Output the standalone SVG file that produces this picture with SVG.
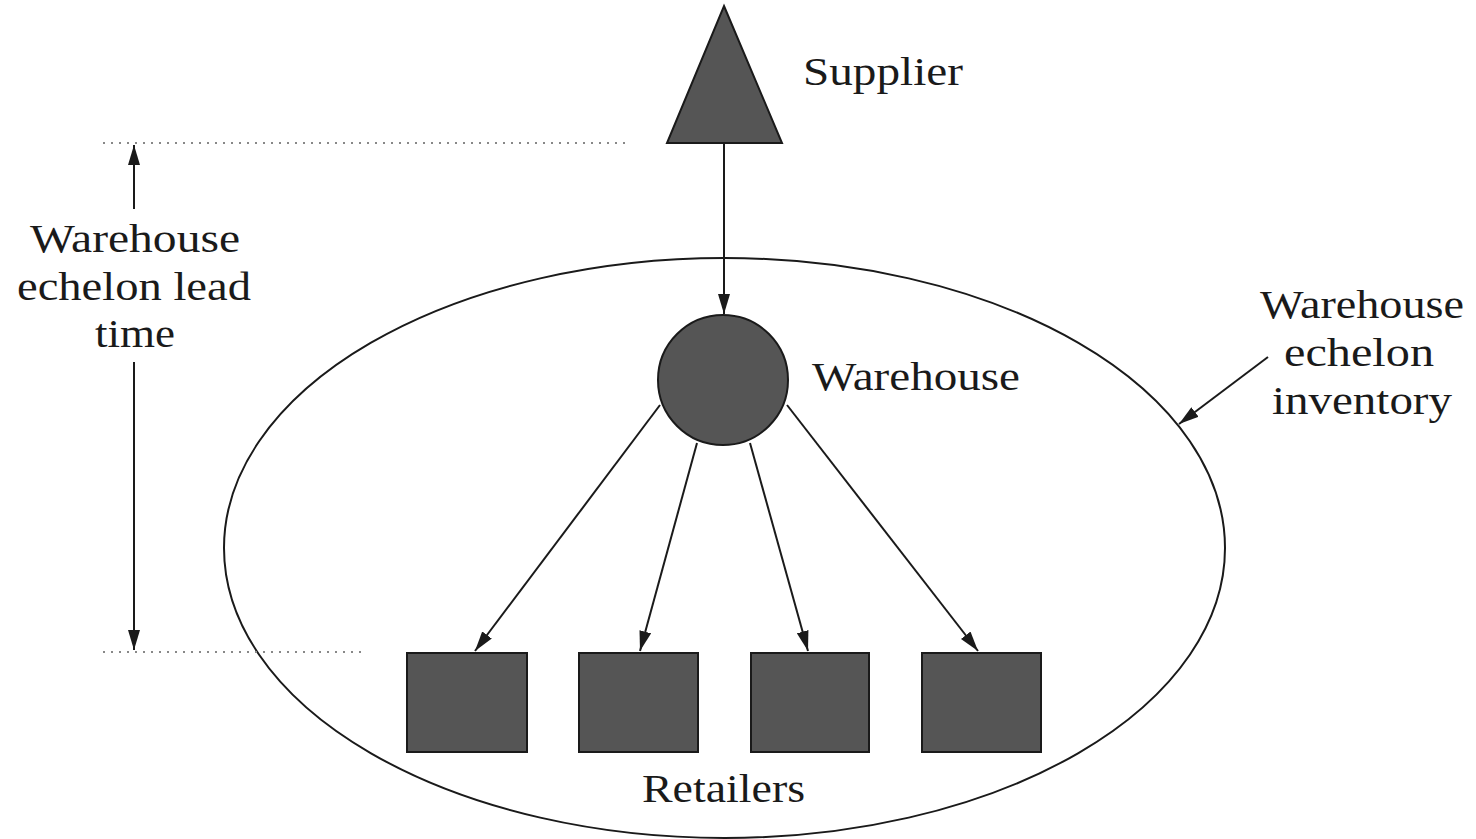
<svg xmlns="http://www.w3.org/2000/svg" width="1476" height="839" viewBox="0 0 1476 839">
<style>
.t{font-family:"Liberation Serif","Times New Roman",serif;font-size:40px;fill:#1a1a1a}
.n{fill:#555555;stroke:#1a1a1a;stroke-width:2}
.c{stroke:#1a1a1a;stroke-width:2;fill:none}
.d{stroke:#888;stroke-width:2;stroke-dasharray:2 6;fill:none}
</style>
<defs>
<marker id="ah2" viewBox="0 0 20 12" refX="20" refY="6" markerWidth="20" markerHeight="12" markerUnits="userSpaceOnUse" orient="auto-start-reverse">
<path d="M0,0 L20,6 L0,12 Z" fill="#1a1a1a"/>
</marker>
</defs>
<rect width="1476" height="839" fill="#ffffff"/>
<g id="ellipse">
<ellipse cx="724.5" cy="548" rx="500.5" ry="290" class="c"/>
</g>
<g id="guides">
<line x1="103" y1="143" x2="625" y2="143" class="d"/>
<line x1="103" y1="652" x2="365" y2="652" class="d"/>
</g>
<g id="supplier">
<polygon points="724,6 782,143 667,143" class="n"/>
<text x="803" y="85" class="t" textLength="160" lengthAdjust="spacingAndGlyphs">Supplier</text>
</g>
<g id="warehouse">
<circle cx="723" cy="380" r="65" class="n"/>
<text x="812" y="390" class="t" textLength="208" lengthAdjust="spacingAndGlyphs">Warehouse</text>
</g>
<g id="retailer1"><rect x="407" y="653" width="120" height="99" class="n"/></g>
<g id="retailer2"><rect x="579" y="653" width="119" height="99" class="n"/></g>
<g id="retailer3"><rect x="751" y="653" width="118" height="99" class="n"/></g>
<g id="retailer4"><rect x="922" y="653" width="119" height="99" class="n"/></g>
<g id="retailers-label">
<text x="642" y="802" class="t" textLength="163" lengthAdjust="spacingAndGlyphs">Retailers</text>
</g>
<g id="lead-time-label">
<text x="30" y="252" class="t" textLength="210" lengthAdjust="spacingAndGlyphs">Warehouse</text>
<text x="17" y="300" class="t" textLength="234" lengthAdjust="spacingAndGlyphs">echelon lead</text>
<text x="95" y="347" class="t" textLength="80" lengthAdjust="spacingAndGlyphs">time</text>
</g>
<g id="inventory-label">
<text x="1260" y="318" class="t" textLength="204" lengthAdjust="spacingAndGlyphs">Warehouse</text>
<text x="1284" y="366" class="t" textLength="150" lengthAdjust="spacingAndGlyphs">echelon</text>
<text x="1272" y="414" class="t" textLength="180" lengthAdjust="spacingAndGlyphs">inventory</text>
</g>
<g id="connectors">
<line x1="724" y1="143" x2="724" y2="314" class="c" marker-end="url(#ah2)"/>
<line x1="660" y1="405" x2="475" y2="651" class="c" marker-end="url(#ah2)"/>
<line x1="697" y1="443" x2="640" y2="651" class="c" marker-end="url(#ah2)"/>
<line x1="750" y1="443" x2="808" y2="651" class="c" marker-end="url(#ah2)"/>
<line x1="787" y1="405" x2="978" y2="651" class="c" marker-end="url(#ah2)"/>
<line x1="134" y1="209" x2="134" y2="145" class="c" marker-end="url(#ah2)"/>
<line x1="134" y1="362" x2="134" y2="650" class="c" marker-end="url(#ah2)"/>
<line x1="1268" y1="357" x2="1179" y2="424" class="c" marker-end="url(#ah2)"/>
</g>
</svg>
